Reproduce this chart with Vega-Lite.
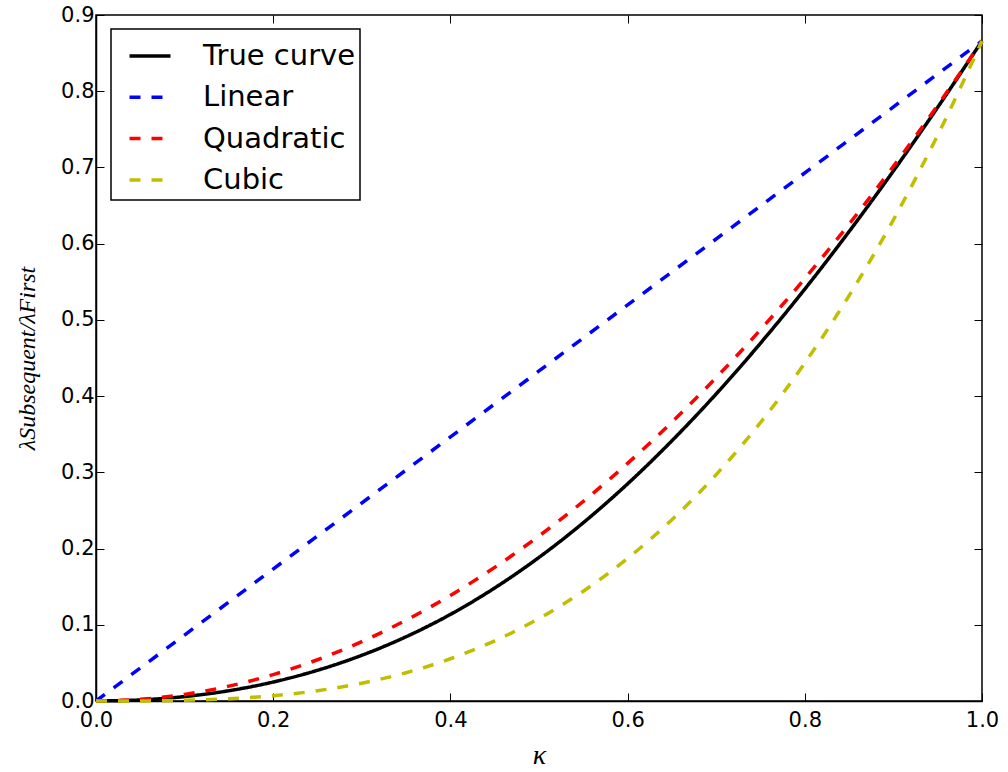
{
  "$schema": "https://vega.github.io/schema/vega-lite/v6.json",
  "width": 886,
  "height": 686,
  "autosize": "none",
  "padding": {"left": 96, "top": 15, "right": 26, "bottom": 71},
  "background": "white",
  "config": {
    "view": {"stroke": "black", "strokeWidth": 1.5},
    "axis": {
      "grid": false,
      "domainColor": "black",
      "domainWidth": 1.5,
      "tickColor": "black",
      "tickWidth": 1,
      "tickSize": -8,
      "labelFont": "DejaVu Sans",
      "labelFontSize": 21,
      "labelColor": "black",
      "labelFlush": false
    },
    "legend": {
      "orient": "none",
      "legendX": 15,
      "legendY": 14,
      "strokeColor": "black",
      "strokeWidth": 1.5,
      "fillColor": "white",
      "padding": 4.5,
      "cornerRadius": 0,
      "labelFont": "DejaVu Sans",
      "labelFontSize": 29,
      "labelColor": "black",
      "labelLimit": 400,
      "labelOffset": 30.5,
      "symbolType": "stroke",
      "symbolSize": 1681,
      "symbolStrokeWidth": 3.5,
      "symbolOffset": 12,
      "rowPadding": 3.3
    }
  },
  "data": {
    "values": [
      {"k": 0.0, "v": 0.0, "s": "True curve"},
      {"k": 0.05, "v": 0.0014, "s": "True curve"},
      {"k": 0.1, "v": 0.0058, "s": "True curve"},
      {"k": 0.15, "v": 0.0135, "s": "True curve"},
      {"k": 0.2, "v": 0.0249, "s": "True curve"},
      {"k": 0.25, "v": 0.0403, "s": "True curve"},
      {"k": 0.3, "v": 0.06, "s": "True curve"},
      {"k": 0.35, "v": 0.0843, "s": "True curve"},
      {"k": 0.4, "v": 0.1136, "s": "True curve"},
      {"k": 0.45, "v": 0.1483, "s": "True curve"},
      {"k": 0.5, "v": 0.1884, "s": "True curve"},
      {"k": 0.55, "v": 0.2339, "s": "True curve"},
      {"k": 0.6, "v": 0.2849, "s": "True curve"},
      {"k": 0.65, "v": 0.3414, "s": "True curve"},
      {"k": 0.7, "v": 0.4029, "s": "True curve"},
      {"k": 0.75, "v": 0.4694, "s": "True curve"},
      {"k": 0.8, "v": 0.5404, "s": "True curve"},
      {"k": 0.85, "v": 0.6159, "s": "True curve"},
      {"k": 0.9, "v": 0.6954, "s": "True curve"},
      {"k": 0.95, "v": 0.7789, "s": "True curve"},
      {"k": 1.0, "v": 0.866, "s": "True curve"},
      {"k": 0.0, "v": 0.0, "s": "Linear"},
      {"k": 0.25, "v": 0.2165, "s": "Linear"},
      {"k": 0.5, "v": 0.433, "s": "Linear"},
      {"k": 0.75, "v": 0.6495, "s": "Linear"},
      {"k": 1.0, "v": 0.866, "s": "Linear"},
      {"k": 0.0, "v": 0.0, "s": "Quadratic"},
      {"k": 0.05, "v": 0.002165, "s": "Quadratic"},
      {"k": 0.1, "v": 0.00866, "s": "Quadratic"},
      {"k": 0.15, "v": 0.019485, "s": "Quadratic"},
      {"k": 0.2, "v": 0.03464, "s": "Quadratic"},
      {"k": 0.25, "v": 0.054125, "s": "Quadratic"},
      {"k": 0.3, "v": 0.07794, "s": "Quadratic"},
      {"k": 0.35, "v": 0.106085, "s": "Quadratic"},
      {"k": 0.4, "v": 0.13856, "s": "Quadratic"},
      {"k": 0.45, "v": 0.175365, "s": "Quadratic"},
      {"k": 0.5, "v": 0.2165, "s": "Quadratic"},
      {"k": 0.55, "v": 0.261965, "s": "Quadratic"},
      {"k": 0.6, "v": 0.31176, "s": "Quadratic"},
      {"k": 0.65, "v": 0.365885, "s": "Quadratic"},
      {"k": 0.7, "v": 0.42434, "s": "Quadratic"},
      {"k": 0.75, "v": 0.487125, "s": "Quadratic"},
      {"k": 0.8, "v": 0.55424, "s": "Quadratic"},
      {"k": 0.85, "v": 0.625685, "s": "Quadratic"},
      {"k": 0.9, "v": 0.70146, "s": "Quadratic"},
      {"k": 0.95, "v": 0.781565, "s": "Quadratic"},
      {"k": 1.0, "v": 0.866, "s": "Quadratic"},
      {"k": 0.0, "v": 0.0, "s": "Cubic"},
      {"k": 0.05, "v": 0.000108, "s": "Cubic"},
      {"k": 0.1, "v": 0.000866, "s": "Cubic"},
      {"k": 0.15, "v": 0.002923, "s": "Cubic"},
      {"k": 0.2, "v": 0.006928, "s": "Cubic"},
      {"k": 0.25, "v": 0.013531, "s": "Cubic"},
      {"k": 0.3, "v": 0.023382, "s": "Cubic"},
      {"k": 0.35, "v": 0.03713, "s": "Cubic"},
      {"k": 0.4, "v": 0.055424, "s": "Cubic"},
      {"k": 0.45, "v": 0.078914, "s": "Cubic"},
      {"k": 0.5, "v": 0.10825, "s": "Cubic"},
      {"k": 0.55, "v": 0.144081, "s": "Cubic"},
      {"k": 0.6, "v": 0.187056, "s": "Cubic"},
      {"k": 0.65, "v": 0.237825, "s": "Cubic"},
      {"k": 0.7, "v": 0.297038, "s": "Cubic"},
      {"k": 0.75, "v": 0.365344, "s": "Cubic"},
      {"k": 0.8, "v": 0.443392, "s": "Cubic"},
      {"k": 0.85, "v": 0.531832, "s": "Cubic"},
      {"k": 0.9, "v": 0.631314, "s": "Cubic"},
      {"k": 0.95, "v": 0.742487, "s": "Cubic"},
      {"k": 1.0, "v": 0.866, "s": "Cubic"}
    ]
  },
  "resolve": {"axis": {"x": "independent", "y": "independent"}},
  "layer": [
    {
      "mark": {"type": "line", "strokeWidth": 3.5, "interpolate": "monotone", "strokeCap": "butt"},
      "encoding": {
        "x": {
          "field": "k", "type": "quantitative",
          "scale": {"domain": [0, 1], "nice": false, "zero": false},
          "axis": {"orient": "bottom", "values": [0, 0.2, 0.4, 0.6, 0.8, 1.0], "format": ".1f", "labelPadding": 16, "title": "κ", "titleFont": "Liberation Serif", "titleFontStyle": "italic", "titleFontWeight": "normal", "titleFontSize": 28, "titlePadding": 11, "titleColor": "black"}
        },
        "y": {
          "field": "v", "type": "quantitative",
          "scale": {"domain": [0, 0.9], "nice": false, "zero": false},
          "axis": {"orient": "left", "values": [0, 0.1, 0.2, 0.3, 0.4, 0.5, 0.6, 0.7, 0.8, 0.9], "format": ".1f", "labelPadding": 10, "title": "λSubsequent/λFirst", "titleFont": "Liberation Serif", "titleFontStyle": "italic", "titleFontWeight": "normal", "titleFontSize": 24, "titlePadding": 21, "titleColor": "black"}
        },
        "color": {
          "field": "s", "type": "nominal",
          "scale": {"domain": ["True curve", "Linear", "Quadratic", "Cubic"], "range": ["#000000", "#0000ff", "#ff0000", "#bfbf00"]},
          "legend": {"title": null}
        },
        "strokeDash": {
          "field": "s", "type": "nominal",
          "scale": {"domain": ["True curve", "Linear", "Quadratic", "Cubic"], "range": [[1, 0], [11, 11], [11, 11], [11, 11]]},
          "legend": {"title": null}
        },
        "order": {"field": "k", "type": "quantitative"}
      }
    },
    {
      "mark": {"type": "line", "opacity": 0},
      "encoding": {
        "x": {
          "field": "k", "type": "quantitative",
          "axis": {"orient": "top", "values": [0, 0.2, 0.4, 0.6, 0.8, 1.0], "labels": false, "title": null, "domain": false}
        },
        "y": {
          "field": "v", "type": "quantitative",
          "axis": {"orient": "right", "values": [0, 0.1, 0.2, 0.3, 0.4, 0.5, 0.6, 0.7, 0.8, 0.9], "labels": false, "title": null, "domain": false}
        },
        "detail": {"field": "s", "type": "nominal"}
      }
    }
  ]
}
